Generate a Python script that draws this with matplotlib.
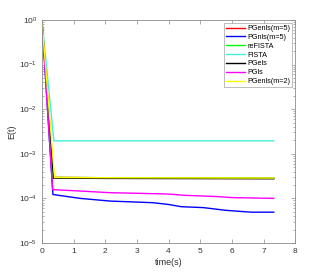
import numpy as np
import matplotlib
matplotlib.use("Agg")
import matplotlib.pyplot as plt
from matplotlib.ticker import LogLocator, NullFormatter

plt.rcParams['font.family'] = ['Liberation Sans', 'DejaVu Sans']

# data
t_red = [0, 0.36, 2.0, 4.0, 6.0, 7.32]
E_red = [1.0, 2.95e-4, 2.9e-4, 2.88e-4, 2.86e-4, 2.85e-4]

t_blue = [0, 0.35, 1.2, 2.15, 3.5, 4.0, 4.4, 5.1, 5.8, 6.6, 7.32]
E_blue = [1.0, 1.22e-4, 1.0e-4, 8.7e-5, 8.0e-5, 7.3e-5, 6.5e-5, 6.2e-5, 5.4e-5, 4.9e-5, 4.9e-5]

t_green = [0, 0.35, 2.0, 4.0, 6.0, 7.32]
E_green = [1.0, 2.95e-4, 2.9e-4, 2.88e-4, 2.86e-4, 2.85e-4]

t_cyan = [0, 0.38, 2.0, 4.0, 6.0, 7.32]
E_cyan = [1.0, 1.95e-3, 1.95e-3, 1.95e-3, 1.95e-3, 1.95e-3]

t_black = [0, 0.37, 2.0, 4.0, 6.0, 7.32]
E_black = [1.0, 2.85e-4, 2.8e-4, 2.78e-4, 2.76e-4, 2.75e-4]

t_mag = [0, 0.34, 1.2, 2.15, 3.0, 4.0, 4.5, 5.5, 6.0, 7.32]
E_mag = [1.0, 1.57e-4, 1.46e-4, 1.34e-4, 1.3e-4, 1.25e-4, 1.17e-4, 1.1e-4, 1.04e-4, 1.0e-4]

t_yel = [0, 0.4, 2.0, 4.0, 6.0, 7.32]
E_yel = [1.0, 2.95e-4, 2.9e-4, 2.88e-4, 2.86e-4, 2.85e-4]

names = ['PGenls(m=5)', 'PGnls(m=5)', 'reFISTA', 'FISTA', 'PGels', 'PGls', 'PGenls(m=2)']
colors = ['#ff0000', '#0000ff', '#00ff00', '#40f0dc', '#000000', '#ff00ff', '#ffff00']

fig = plt.figure(figsize=(3.27, 2.73), dpi=100)
ax = fig.add_axes([0.128, 0.11, 0.775, 0.817])

series = [(t_red, E_red), (t_blue, E_blue), (t_green, E_green), (t_cyan, E_cyan),
          (t_black, E_black), (t_mag, E_mag), (t_yel, E_yel)]
for (t, E), name, c in zip(series, names, colors):
    ax.plot(t, E, color=c, lw=1.0, label=name)

ax.set_yscale('log')
ax.set_xlim(0, 8)
ax.set_ylim(1e-5, 1)
ax.set_xticks(range(0, 9))
ax.yaxis.set_major_locator(LogLocator(base=10, numticks=10))
ax.yaxis.set_minor_locator(LogLocator(base=10, subs=np.arange(2, 10), numticks=10))
ax.yaxis.set_minor_formatter(NullFormatter())

for s in ax.spines.values():
    s.set_color('#8c8c8c')
    s.set_linewidth(0.6)
ax.tick_params(which='both', direction='in', top=True, right=True,
               colors='#8c8c8c', labelcolor='#333333', labelsize=6, width=0.5)
ax.tick_params(which='major', length=3)
ax.tick_params(which='minor', length=1.5)

ax.set_xlabel('time(s)', fontsize=6.5, color='#333333', labelpad=2)
ax.set_ylabel('E(t)', fontsize=6.5, color='#333333', labelpad=2)

leg = ax.legend(loc='upper right', fontsize=5.2, frameon=True, fancybox=False,
                edgecolor='#8c8c8c', borderpad=0.3, labelspacing=0.25,
                handlelength=2.6, handletextpad=0.3, borderaxespad=0.4)
leg.get_frame().set_linewidth(0.5)

fig.savefig('out.png', dpi=100)
